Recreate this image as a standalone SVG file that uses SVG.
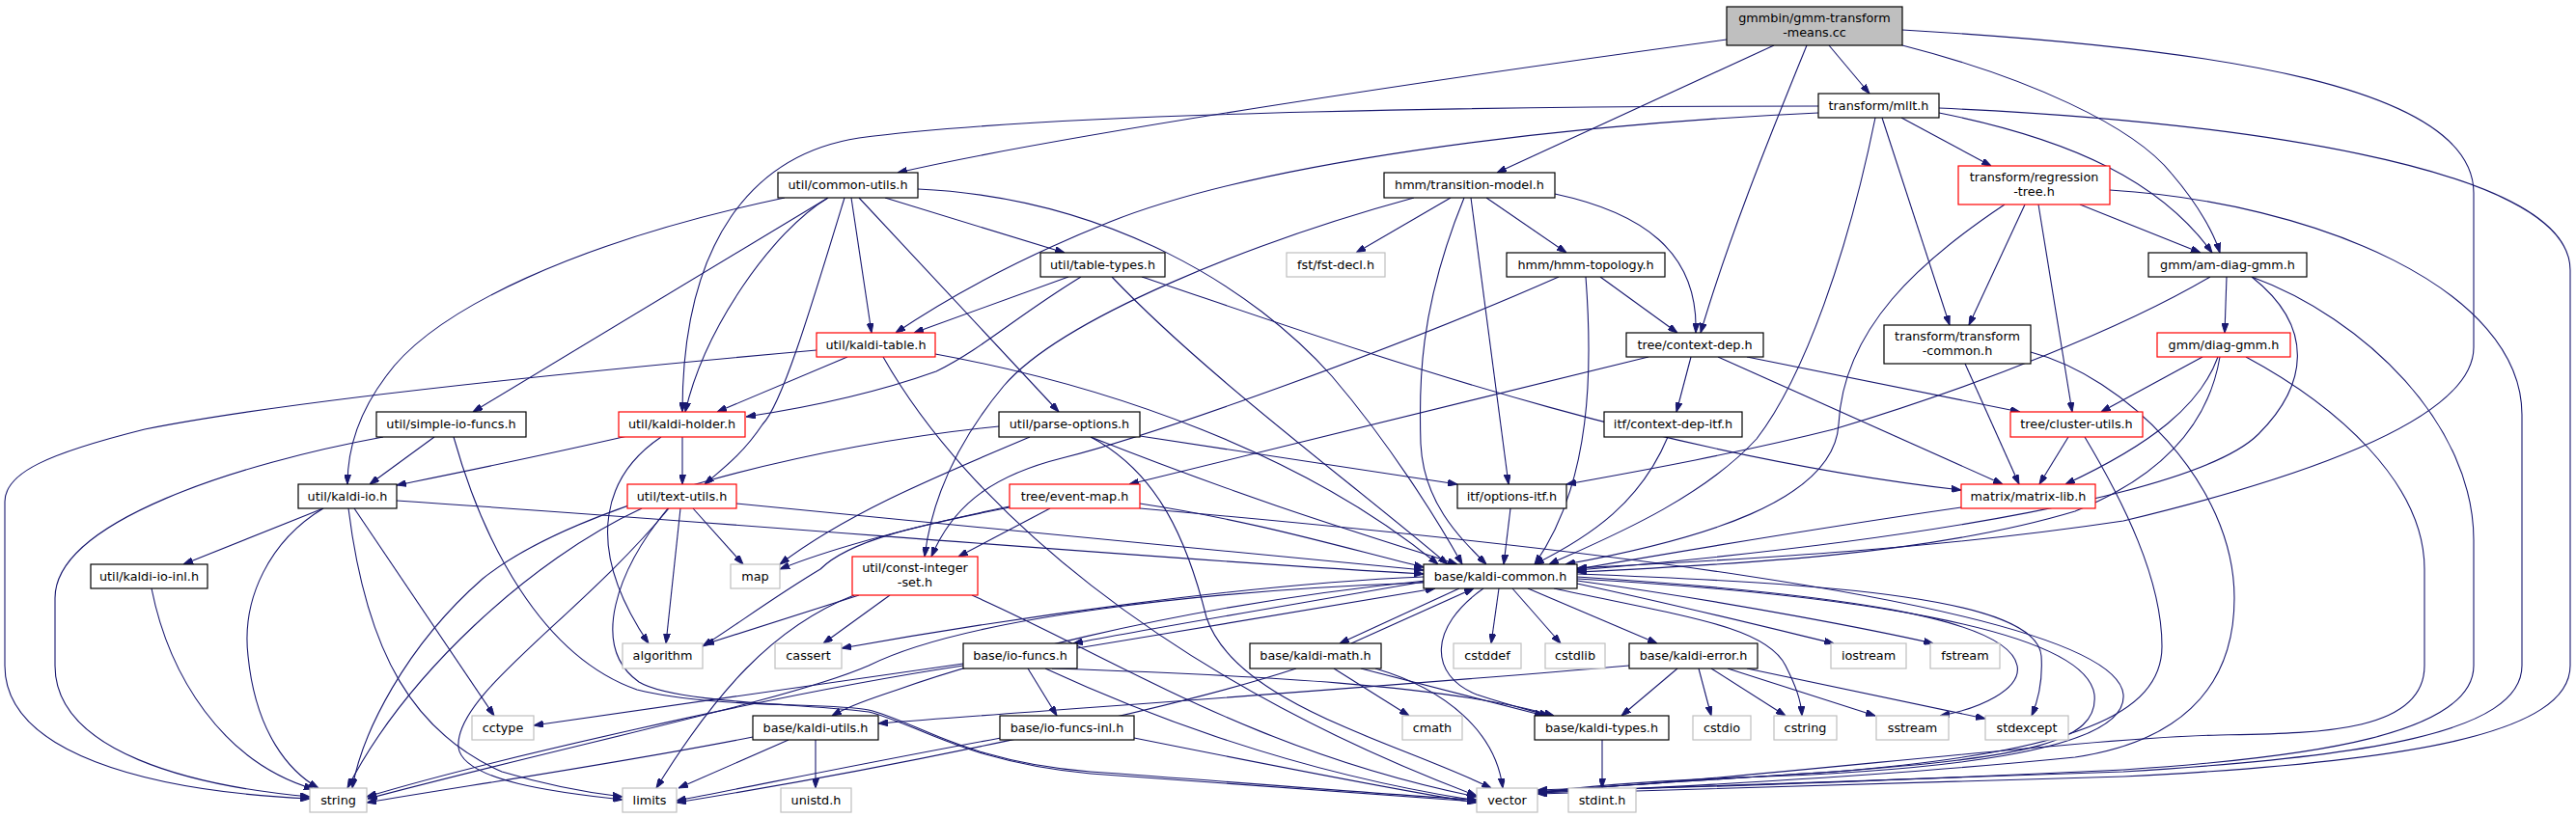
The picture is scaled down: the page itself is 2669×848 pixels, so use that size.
<svg xmlns="http://www.w3.org/2000/svg" width="2669" height="848" viewBox="0 0 2669 848">
<style>
.n rect{fill:#fff;stroke:#000;stroke-width:1.2}
.n.r rect{stroke:#ff0000}
.n.g rect{stroke:#bfbfbf}
.n.root rect{fill:#bfbfbf}
.n text{font-family:"DejaVu Sans",sans-serif;font-size:12.8px;text-anchor:middle;fill:#000}
#edges path{fill:none;stroke:#191970;stroke-width:1.1;marker-end:url(#ah)}
</style>
<defs>
<marker id="ah" viewBox="0 0 10 7" refX="10" refY="3.5" markerWidth="10" markerHeight="7" markerUnits="userSpaceOnUse" orient="auto">
<path d="M0,0 L10,3.5 L0,7 z" fill="#191970" stroke="#191970"/>
</marker>
</defs>
<rect width="2669" height="848" fill="#fff"/>
<g id="edges">
<path d="M1789,41 C1500,80 1100,140 930,179"/>
<path d="M1838,47 L1551,179"/>
<path d="M1872,47 C1830,150 1790,250 1762,345"/>
<path d="M1895,47 L1937,97"/>
<path d="M1971,47 C2100,80 2210,130 2250,180 C2280,215 2295,245 2300,262"/>
<path d="M1971,31 C2300,50 2563,90 2563,200 L2563,360 C2563,420 2450,480 2200,540 C2000,570 1800,580 1634,589"/>
<path d="M1884,117 C1600,130 1300,170 1150,230 C1050,270 980,310 928,345"/>
<path d="M1884,110 C1600,110 1100,115 890,143 C780,160 707,250 707,427"/>
<path d="M1943,122 C1915,260 1870,390 1820,455 C1760,520 1660,560 1605,585"/>
<path d="M1950,122 L2020,337"/>
<path d="M1970,122 L2063,172"/>
<path d="M2009,112 C2300,125 2663,170 2663,280 L2663,690 C2663,760 2500,790 2200,805 C1900,815 1700,820 1593,823"/>
<path d="M2009,117 C2150,145 2240,190 2292,262"/>
<path d="M2155,212 L2280,262"/>
<path d="M2098,212 L2040,337"/>
<path d="M2112,212 L2147,427"/>
<path d="M2077,212 C1990,270 1910,340 1905,440 C1900,520 1760,560 1622,585"/>
<path d="M2186,197 C2400,210 2613,300 2613,430 L2613,690 C2613,760 2450,785 2200,800 C1900,812 1700,818 1593,821"/>
<path d="M2307,287 L2305,345"/>
<path d="M2290,287 C2200,340 2050,400 1900,445 C1800,470 1700,488 1623,502"/>
<path d="M2333,287 C2400,340 2390,400 2340,450 C2280,510 2000,560 1634,591"/>
<path d="M2333,287 C2450,330 2563,440 2563,560 L2563,690 C2563,760 2400,785 2200,798 C1900,812 1700,818 1593,820"/>
<path d="M2327,370 C2420,420 2512,500 2512,590 L2512,690 C2512,760 2400,760 2300,762 C2150,765 1750,815 1593,819"/>
<path d="M2282,370 L2177,427"/>
<path d="M2298,370 C2280,420 2230,460 2140,502"/>
<path d="M2300,370 C2290,430 2250,490 2150,530 C2000,575 1800,585 1634,593"/>
<path d="M2036,377 L2092,502"/>
<path d="M2104,365 C2200,390 2315,500 2315,620 C2315,720 2250,770 2150,785 C1950,805 1700,818 1593,822"/>
<path d="M1752,370 L1737,427"/>
<path d="M1708,370 L1170,502"/>
<path d="M1780,370 L2075,502"/>
<path d="M1810,370 L2093,427"/>
<path d="M1503,205 L1405,262"/>
<path d="M1540,205 L1623,262"/>
<path d="M1611,201 C1700,220 1760,260 1757,345"/>
<path d="M1465,205 C1300,250 1100,330 1040,400 C990,460 965,520 958,577"/>
<path d="M1517,205 C1470,320 1470,400 1472,460 C1475,520 1510,555 1540,585"/>
<path d="M1524,205 L1563,502"/>
<path d="M1658,287 L1738,345"/>
<path d="M1615,287 C1450,360 1200,450 1100,475 C1020,495 985,530 965,577"/>
<path d="M1643,287 C1650,380 1650,500 1590,585"/>
<path d="M813,205 C600,250 450,320 400,390 C370,430 360,470 360,502"/>
<path d="M858,205 L490,427"/>
<path d="M858,205 C800,240 730,340 710,427"/>
<path d="M882,205 L903,345"/>
<path d="M875,205 C840,320 810,420 790,440 C770,470 750,485 730,502"/>
<path d="M890,205 L1097,427"/>
<path d="M917,205 L1103,262"/>
<path d="M951,196 C1150,205 1300,300 1380,390 C1440,460 1490,540 1515,585"/>
<path d="M1107,287 L947,345"/>
<path d="M1120,287 C1050,330 1020,360 970,385 C900,410 820,425 773,432"/>
<path d="M1152,287 C1250,390 1400,500 1500,585"/>
<path d="M1183,287 C1400,360 1700,470 2032,508"/>
<path d="M878,370 L743,427"/>
<path d="M846,363 C600,385 300,415 150,445 C50,470 5,490 5,520 L5,690 C5,780 150,820 321,828"/>
<path d="M969,367 C1150,400 1350,470 1490,585"/>
<path d="M915,370 C1000,520 1200,700 1530,825"/>
<path d="M650,452 C550,475 450,495 411,503"/>
<path d="M707,453 L707,502"/>
<path d="M685,453 C630,490 600,560 672,667"/>
<path d="M450,453 L383,502"/>
<path d="M397,453 C250,480 57,540 57,620 L57,690 C57,780 200,815 321,826"/>
<path d="M470,453 C500,560 560,680 660,715 C740,735 860,728 900,736 C950,748 1000,790 1130,800 C1300,812 1450,825 1530,829"/>
<path d="M335,527 L190,585"/>
<path d="M335,527 C280,560 250,620 257,680 C265,760 300,800 330,817"/>
<path d="M361,527 C380,680 430,760 520,800 C570,815 610,822 645,826"/>
<path d="M367,527 L512,742"/>
<path d="M411,519 C800,545 1200,580 1475,595"/>
<path d="M157,610 C175,700 230,790 325,818"/>
<path d="M718,527 L770,585"/>
<path d="M705,527 L690,667"/>
<path d="M665,527 C550,580 420,700 360,817"/>
<path d="M693,527 C600,640 470,720 475,775 C480,810 580,822 645,829"/>
<path d="M692,527 C640,590 610,670 662,707 C700,730 850,730 900,738 C950,750 1000,790 1130,802 C1300,814 1450,826 1530,831"/>
<path d="M763,522 C1000,545 1300,575 1475,591"/>
<path d="M1067,453 C980,490 880,530 808,585"/>
<path d="M1035,442 C850,460 600,520 500,600 C420,670 375,760 365,817"/>
<path d="M1130,453 C1200,490 1230,560 1250,640 C1280,730 1450,770 1545,817"/>
<path d="M1130,453 C1300,520 1400,550 1510,585"/>
<path d="M1181,452 L1510,502"/>
<path d="M1088,527 L993,577"/>
<path d="M1046,525 C950,545 870,565 808,590"/>
<path d="M1046,526 C950,545 880,560 850,590 C800,620 760,650 728,670"/>
<path d="M1181,522 C1300,540 1400,570 1475,588"/>
<path d="M1181,527 C1500,555 2190,620 2200,720 C2205,780 2000,800 1800,806 C1700,810 1640,815 1593,822"/>
<path d="M890,617 L730,668"/>
<path d="M922,617 L853,667"/>
<path d="M885,617 C800,650 740,720 680,817"/>
<path d="M1007,617 C1150,680 1300,780 1530,826"/>
<path d="M1553,610 L1545,667"/>
<path d="M1567,610 L1617,667"/>
<path d="M1583,610 L1717,667"/>
<path d="M1512,610 L1388,667"/>
<path d="M1400,667 L1527,610"/>
<path d="M1475,603 C1350,625 1200,650 1112,667"/>
<path d="M1116,672 C1250,650 1400,625 1487,610"/>
<path d="M1537,610 C1480,650 1480,700 1530,720 C1560,730 1580,735 1605,742"/>
<path d="M1634,605 C1750,630 1850,655 1900,667"/>
<path d="M1634,602 C1800,625 1950,655 2003,667"/>
<path d="M1610,610 C1750,640 1830,650 1850,690 C1860,710 1866,725 1867,742"/>
<path d="M1634,598 C1900,615 2080,640 2090,690 C2095,715 2050,735 2010,742"/>
<path d="M1634,595 C1900,605 2110,620 2115,680 C2117,710 2110,730 2105,742"/>
<path d="M1634,600 C1900,615 2160,650 2170,720 C2175,770 2100,785 1900,800 C1750,810 1650,815 1593,822"/>
<path d="M1475,598 C1300,605 1050,640 872,672"/>
<path d="M1477,602 C1200,630 1000,690 930,715 C900,725 880,732 862,742"/>
<path d="M1475,604 C1250,612 1000,640 900,690 C820,725 600,770 381,828"/>
<path d="M1065,693 L1095,742"/>
<path d="M998,688 L553,752"/>
<path d="M998,690 C800,720 500,790 380,826"/>
<path d="M1083,693 C1250,770 1400,810 1530,830"/>
<path d="M1090,693 C1300,700 1500,710 1610,742"/>
<path d="M1037,765 C900,790 780,815 701,830"/>
<path d="M1175,765 C1300,790 1450,820 1530,832"/>
<path d="M780,764 C650,790 480,815 380,832"/>
<path d="M817,767 L703,817"/>
<path d="M845,767 L845,817"/>
<path d="M1382,693 L1460,742"/>
<path d="M1410,693 L1600,742"/>
<path d="M1425,693 C1500,715 1550,760 1557,817"/>
<path d="M1343,693 C1200,740 900,800 701,832"/>
<path d="M1738,693 L1680,742"/>
<path d="M1760,693 L1773,742"/>
<path d="M1773,693 L1850,742"/>
<path d="M1790,693 L1943,742"/>
<path d="M1810,693 L2057,745"/>
<path d="M1688,690 C1400,715 1100,735 910,750"/>
<path d="M1660,767 L1660,817"/>
<path d="M2143,453 L2113,502"/>
<path d="M2160,453 C2200,520 2240,600 2240,670 C2240,740 2150,780 1900,800 C1750,810 1650,815 1593,822"/>
<path d="M2032,526 C1900,545 1750,570 1634,590"/>
<path d="M1728,453 C1700,520 1650,555 1590,585"/>
<path d="M1565,527 L1558,585"/>
</g>
<g id="n_root" class="n root"><rect x="1789" y="7" width="182" height="40"/><text x="1880" y="23">gmmbin/gmm-transform</text><text x="1880" y="38">-means.cc</text></g>
<g id="n_mllt" class="n"><rect x="1884" y="97" width="125" height="25"/><text x="1946.5" y="114">transform/mllt.h</text></g>
<g id="n_regtree" class="n r"><rect x="2029" y="172" width="157" height="40"/><text x="2107.5" y="188">transform/regression</text><text x="2107.5" y="203">-tree.h</text></g>
<g id="n_amdiag" class="n"><rect x="2226" y="262" width="164" height="25"/><text x="2308" y="279">gmm/am-diag-gmm.h</text></g>
<g id="n_diaggmm" class="n r"><rect x="2235" y="345" width="138" height="25"/><text x="2304" y="362">gmm/diag-gmm.h</text></g>
<g id="n_tcommon" class="n"><rect x="1952" y="337" width="152" height="40"/><text x="2028" y="353">transform/transform</text><text x="2028" y="368">-common.h</text></g>
<g id="n_ctxdep" class="n"><rect x="1685" y="345" width="142" height="25"/><text x="1756" y="362">tree/context-dep.h</text></g>
<g id="n_transmodel" class="n"><rect x="1434" y="179" width="177" height="26"/><text x="1522.5" y="196">hmm/transition-model.h</text></g>
<g id="n_fstdecl" class="n g"><rect x="1333" y="262" width="102" height="25"/><text x="1384" y="279">fst/fst-decl.h</text></g>
<g id="n_hmmtopo" class="n"><rect x="1561" y="262" width="164" height="25"/><text x="1643" y="279">hmm/hmm-topology.h</text></g>
<g id="n_commonutils" class="n"><rect x="806" y="179" width="145" height="26"/><text x="878.5" y="196">util/common-utils.h</text></g>
<g id="n_tabletypes" class="n"><rect x="1078" y="262" width="129" height="25"/><text x="1142.5" y="279">util/table-types.h</text></g>
<g id="n_kalditable" class="n r"><rect x="846" y="345" width="123" height="25"/><text x="907.5" y="362">util/kaldi-table.h</text></g>
<g id="n_simpleio" class="n"><rect x="390" y="427" width="155" height="26"/><text x="467.5" y="444">util/simple-io-funcs.h</text></g>
<g id="n_kaldiholder" class="n r"><rect x="641" y="427" width="131" height="26"/><text x="706.5" y="444">util/kaldi-holder.h</text></g>
<g id="n_parseopts" class="n"><rect x="1035" y="427" width="146" height="26"/><text x="1108" y="444">util/parse-options.h</text></g>
<g id="n_ctxdepitf" class="n"><rect x="1662" y="427" width="143" height="26"/><text x="1733.5" y="444">itf/context-dep-itf.h</text></g>
<g id="n_clusterutils" class="n r"><rect x="2083" y="427" width="137" height="26"/><text x="2151.5" y="444">tree/cluster-utils.h</text></g>
<g id="n_kaldiio" class="n"><rect x="309" y="502" width="102" height="25"/><text x="360" y="519">util/kaldi-io.h</text></g>
<g id="n_textutils" class="n r"><rect x="650" y="502" width="113" height="25"/><text x="706.5" y="519">util/text-utils.h</text></g>
<g id="n_eventmap" class="n r"><rect x="1046" y="502" width="135" height="25"/><text x="1113.5" y="519">tree/event-map.h</text></g>
<g id="n_optionsitf" class="n"><rect x="1510" y="502" width="113" height="25"/><text x="1566.5" y="519">itf/options-itf.h</text></g>
<g id="n_matrixlib" class="n r"><rect x="2032" y="502" width="139" height="25"/><text x="2101.5" y="519">matrix/matrix-lib.h</text></g>
<g id="n_kaldiioinl" class="n"><rect x="94" y="585" width="121" height="25"/><text x="154.5" y="602">util/kaldi-io-inl.h</text></g>
<g id="n_constint" class="n r"><rect x="883" y="577" width="130" height="40"/><text x="948" y="593">util/const-integer</text><text x="948" y="608">-set.h</text></g>
<g id="n_kaldicommon" class="n"><rect x="1475" y="585" width="159" height="25"/><text x="1554.5" y="602">base/kaldi-common.h</text></g>
<g id="n_map" class="n g"><rect x="757" y="585" width="51" height="25"/><text x="782.5" y="602">map</text></g>
<g id="n_algorithm" class="n g"><rect x="645" y="667" width="83" height="26"/><text x="686.5" y="684">algorithm</text></g>
<g id="n_cassert" class="n g"><rect x="803" y="667" width="69" height="26"/><text x="837.5" y="684">cassert</text></g>
<g id="n_iofuncs" class="n"><rect x="998" y="667" width="118" height="26"/><text x="1057" y="684">base/io-funcs.h</text></g>
<g id="n_kaldimath" class="n"><rect x="1295" y="667" width="136" height="26"/><text x="1363" y="684">base/kaldi-math.h</text></g>
<g id="n_cstddef" class="n g"><rect x="1506" y="667" width="70" height="26"/><text x="1541" y="684">cstddef</text></g>
<g id="n_cstdlib" class="n g"><rect x="1601" y="667" width="62" height="26"/><text x="1632" y="684">cstdlib</text></g>
<g id="n_kaldierror" class="n"><rect x="1688" y="667" width="133" height="26"/><text x="1754.5" y="684">base/kaldi-error.h</text></g>
<g id="n_iostream" class="n g"><rect x="1897" y="667" width="78" height="26"/><text x="1936" y="684">iostream</text></g>
<g id="n_fstream" class="n g"><rect x="2000" y="667" width="72" height="26"/><text x="2036" y="684">fstream</text></g>
<g id="n_cctype" class="n g"><rect x="489" y="742" width="64" height="25"/><text x="521" y="759">cctype</text></g>
<g id="n_kaldiutils" class="n"><rect x="780" y="742" width="130" height="25"/><text x="845" y="759">base/kaldi-utils.h</text></g>
<g id="n_iofuncsinl" class="n"><rect x="1036" y="742" width="139" height="25"/><text x="1105.5" y="759">base/io-funcs-inl.h</text></g>
<g id="n_cmath" class="n g"><rect x="1453" y="742" width="62" height="25"/><text x="1484" y="759">cmath</text></g>
<g id="n_kalditypes" class="n"><rect x="1590" y="742" width="139" height="25"/><text x="1659.5" y="759">base/kaldi-types.h</text></g>
<g id="n_cstdio" class="n g"><rect x="1754" y="742" width="60" height="25"/><text x="1784" y="759">cstdio</text></g>
<g id="n_cstring" class="n g"><rect x="1838" y="742" width="65" height="25"/><text x="1870.5" y="759">cstring</text></g>
<g id="n_sstream" class="n g"><rect x="1944" y="742" width="75" height="25"/><text x="1981.5" y="759">sstream</text></g>
<g id="n_stdexcept" class="n g"><rect x="2057" y="742" width="86" height="25"/><text x="2100" y="759">stdexcept</text></g>
<g id="n_string" class="n g"><rect x="321" y="817" width="59" height="25"/><text x="350.5" y="834">string</text></g>
<g id="n_limits" class="n g"><rect x="645" y="817" width="56" height="25"/><text x="673" y="834">limits</text></g>
<g id="n_unistd" class="n g"><rect x="809" y="817" width="73" height="25"/><text x="845.5" y="834">unistd.h</text></g>
<g id="n_vector" class="n g"><rect x="1530" y="817" width="63" height="25"/><text x="1561.5" y="834">vector</text></g>
<g id="n_stdint" class="n g"><rect x="1625" y="817" width="70" height="25"/><text x="1660" y="834">stdint.h</text></g>
</svg>
